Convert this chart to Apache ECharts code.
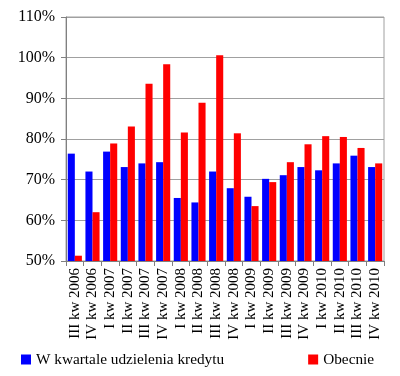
<!DOCTYPE html>
<html>
<head>
<meta charset="utf-8">
<script src="https://cdn.jsdelivr.net/npm/echarts@6/dist/echarts.min.js"></script>
<style>
html,body{margin:0;padding:0;background:#fff;}
#chart{width:400px;height:376px;}
</style>
</head>
<body>
<div id="chart"></div>
<script>
var categories = ["III kw 2006","IV kw 2006","I kw 2007","II kw 2007","III kw 2007","IV kw 2007",
	"I kw 2008","II kw 2008","III kw 2008","IV kw 2008","I kw 2009","II kw 2009",
	"III kw 2009","IV kw 2009","I kw 2010","II kw 2010","III kw 2010","IV kw 2010"];
var kwartalValues = [76.4,72.0,76.9,73.1,74.0,74.3,65.5,64.4,72.0,67.9,65.8,70.2,71.1,73.1,72.3,74.0,75.9,73.1];
var obecnieValues = [51.3,62.0,78.9,83.1,93.6,98.4,81.6,88.9,100.6,81.4,63.5,69.4,74.3,78.7,80.7,80.5,77.8,74.0];
var seriesNames = ["W kwartale udzielenia kredytu","Obecnie"];

var chart = echarts.init(document.getElementById("chart"));
var font = "Liberation Serif";
chart.setOption({
	animation:false,
	textStyle:{fontFamily:font},
	grid:{left:66,right:16,top:17,bottom:115,show:true,borderColor:"#a0a0a0",borderWidth:1},
	legend:{
		left:16,bottom:4,itemWidth:10,itemHeight:10,itemGap:84,icon:"rect",
		textStyle:{fontFamily:font,fontSize:15.3,color:"#000"},
		data:seriesNames
	},
	xAxis:{
		type:"category",data:categories,
		axisLine:{lineStyle:{color:"#808080"}},
		axisTick:{show:true,length:5,lineStyle:{color:"#808080"}},
		axisLabel:{rotate:90,interval:0,margin:7,fontFamily:font,fontSize:15,color:"#000"}
	},
	yAxis:{
		type:"value",min:50,max:110,interval:10,
		axisLine:{show:true,lineStyle:{color:"#808080"}},
		axisTick:{show:true,length:5,lineStyle:{color:"#808080"}},
		splitLine:{lineStyle:{color:"#a0a0a0"}},
		axisLabel:{formatter:"{value}%",margin:11,fontFamily:font,fontSize:16,color:"#000"}
	},
	series:[
		{name:seriesNames[0],type:"bar",data:kwartalValues,itemStyle:{color:"#0000ff"},barGap:"0%",barCategoryGap:"20%"},
		{name:seriesNames[1],type:"bar",data:obecnieValues,itemStyle:{color:"#ff0000"}}
	]
});
</script>
</body>
</html>
